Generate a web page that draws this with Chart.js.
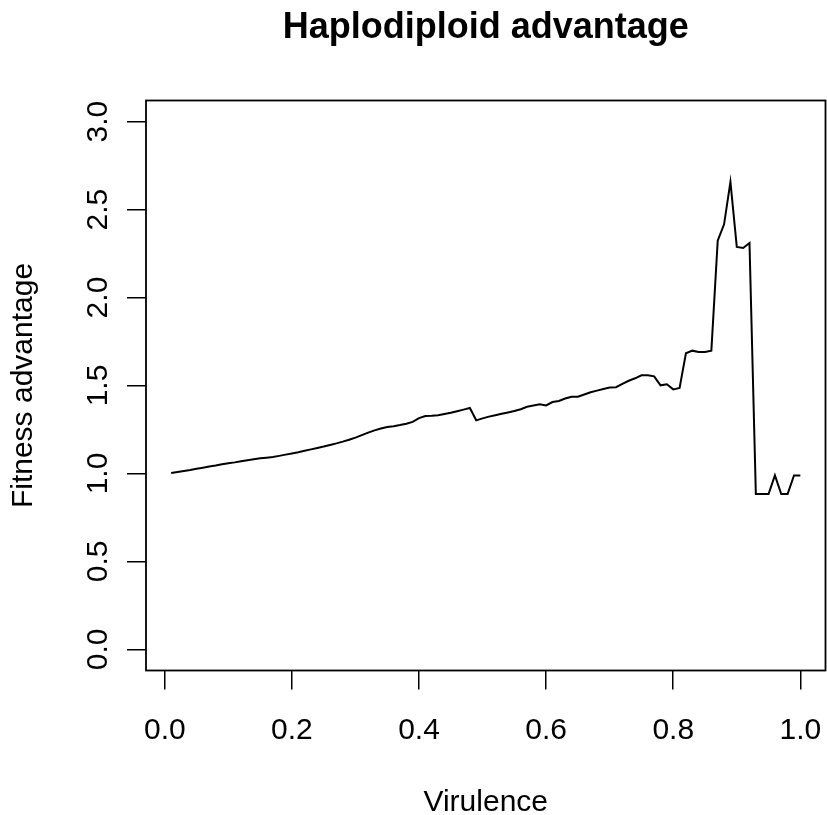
<!DOCTYPE html>
<html lang="en">
<head>
    <meta charset="UTF-8">
    <title>Haplodiploid advantage</title>
    <style>
        body {
            margin: 0;
            padding: 0;
            background: #ffffff;
        }

        .container {
            width: 827px;
            height: 815px;
            position: relative;
        }
    </style>
    <script src="https://cdn.jsdelivr.net/npm/chart.js"></script>
</head>
<body>
    <div class="container">
        <canvas id="advantageChart"></canvas>
    </div>

    <script>
        // Data
        const virulence = [
            0.01, 0.02, 0.03, 0.04, 0.05, 0.06, 0.07, 0.08, 0.09, 0.10,
            0.11, 0.12, 0.13, 0.14, 0.15, 0.16, 0.17, 0.18, 0.19, 0.20,
            0.21, 0.22, 0.23, 0.24, 0.25, 0.26, 0.27, 0.28, 0.29, 0.30,
            0.31, 0.32, 0.33, 0.34, 0.35, 0.36, 0.37, 0.38, 0.39, 0.40,
            0.41, 0.42, 0.43, 0.44, 0.45, 0.46, 0.47, 0.48, 0.49, 0.50,
            0.51, 0.52, 0.53, 0.54, 0.55, 0.56, 0.57, 0.58, 0.59, 0.60,
            0.61, 0.62, 0.63, 0.64, 0.65, 0.66, 0.67, 0.68, 0.69, 0.70,
            0.71, 0.72, 0.73, 0.74, 0.75, 0.76, 0.77, 0.78, 0.79, 0.80,
            0.81, 0.82, 0.83, 0.84, 0.85, 0.86, 0.87, 0.88, 0.89, 0.90,
            0.91, 0.92, 0.93, 0.94, 0.95, 0.96, 0.97, 0.98, 0.99, 1.00
        ];

        const fitnessAdvantage = [
            1.002, 1.008, 1.014, 1.020, 1.027, 1.033, 1.039, 1.045, 1.052, 1.058,
            1.063, 1.069, 1.075, 1.081, 1.087, 1.090, 1.093, 1.100, 1.107, 1.114,
            1.121, 1.129, 1.137, 1.145, 1.153, 1.162, 1.171, 1.181, 1.192, 1.204,
            1.218, 1.232, 1.245, 1.256, 1.264, 1.269, 1.275, 1.283, 1.293, 1.315,
            1.327, 1.328, 1.331, 1.338, 1.345, 1.354, 1.363, 1.372, 1.302, 1.313,
            1.323, 1.331, 1.339, 1.347, 1.355, 1.365, 1.379, 1.386, 1.393, 1.387,
            1.406, 1.412, 1.426, 1.436, 1.436, 1.449, 1.462, 1.471, 1.480, 1.488,
            1.490, 1.509, 1.527, 1.541, 1.558, 1.558, 1.552, 1.501, 1.507, 1.478,
            1.486, 1.683, 1.698, 1.690, 1.690, 1.698, 2.323, 2.416, 2.657, 2.288,
            2.282, 2.310, 0.883, 0.883, 0.883, 0.989, 0.883, 0.883, 0.989, 0.989
        ];

        const xTicks = [0.0, 0.2, 0.4, 0.6, 0.8, 1.0];
        const yTicks = [0.0, 0.5, 1.0, 1.5, 2.0, 2.5, 3.0];

        const fontFamily = '"Liberation Sans", Arial, sans-serif';

        // box, tick labels and titles in R base-graphics style
        const rStylePlugin = {
            id: 'rStyle',
            afterDraw(chart) {
                const ctx = chart.ctx;
                const area = chart.chartArea;
                const xs = chart.scales.x;
                const ys = chart.scales.y;

                ctx.save();
                ctx.strokeStyle = '#000';
                ctx.lineWidth = 1.8;
                ctx.strokeRect(area.left, area.top, area.right - area.left, area.bottom - area.top);

                ctx.fillStyle = '#000';
                ctx.font = '30px ' + fontFamily;
                ctx.textAlign = 'center';
                ctx.textBaseline = 'alphabetic';
                xTicks.forEach(v => {
                    ctx.fillText(v.toFixed(1), xs.getPixelForValue(v), 739);
                });

                yTicks.forEach(v => {
                    ctx.save();
                    ctx.translate(107, ys.getPixelForValue(v));
                    ctx.rotate(-Math.PI / 2);
                    ctx.fillText(v.toFixed(1), 0, 0);
                    ctx.restore();
                });

                ctx.fillText('Virulence', (area.left + area.right) / 2, 811);

                ctx.save();
                ctx.translate(32, (area.top + area.bottom) / 2);
                ctx.rotate(-Math.PI / 2);
                ctx.fillText('Fitness advantage', 0, 0);
                ctx.restore();

                ctx.font = 'bold 36px ' + fontFamily;
                ctx.fillText('Haplodiploid advantage', (area.left + area.right) / 2, 38);
                ctx.restore();
            }
        };

        const config = {
            type: 'line',
            data: {
                datasets: [{
                    label: 'Fitness advantage',
                    data: virulence.map((v, i) => ({ x: v, y: fitnessAdvantage[i] })),
                    borderColor: '#000000',
                    borderWidth: 2,
                    pointRadius: 0,
                    tension: 0,
                    fill: false
                }]
            },
            options: {
                responsive: true,
                maintainAspectRatio: false,
                animation: false,
                layout: {
                    padding: { top: 100.5, right: 1.5, left: 0, bottom: 0 }
                },
                plugins: {
                    legend: { display: false },
                    title: { display: false },
                    tooltip: { enabled: false }
                },
                scales: {
                    x: {
                        type: 'linear',
                        min: -0.0296,
                        max: 1.0396,
                        afterBuildTicks: scale => {
                            scale.ticks = xTicks.map(v => ({ value: v }));
                        },
                        afterFit: scale => {
                            scale.height = 144.5;
                        },
                        ticks: { display: false },
                        border: { display: false },
                        grid: {
                            drawOnChartArea: false,
                            drawTicks: true,
                            tickLength: 19,
                            color: '#000',
                            lineWidth: 1.5
                        }
                    },
                    y: {
                        min: -0.12,
                        max: 3.12,
                        afterBuildTicks: scale => {
                            scale.ticks = yTicks.map(v => ({ value: v }));
                        },
                        afterFit: scale => {
                            scale.width = 146;
                        },
                        ticks: { display: false },
                        border: { display: false },
                        grid: {
                            drawOnChartArea: false,
                            drawTicks: true,
                            tickLength: 19,
                            color: '#000',
                            lineWidth: 1.5
                        }
                    }
                }
            },
            plugins: [rStylePlugin]
        };

        const advantageChart = new Chart(
            document.getElementById('advantageChart'),
            config
        );
    </script>
</body>
</html>
